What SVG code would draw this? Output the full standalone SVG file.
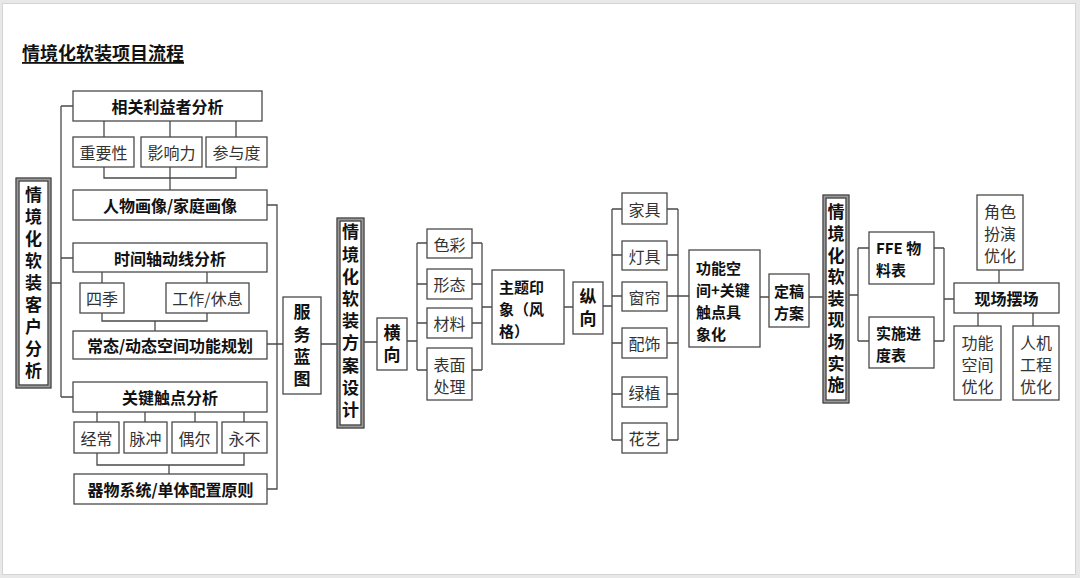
<svg xmlns="http://www.w3.org/2000/svg" width="1080" height="578" viewBox="0 0 1080 578">
<defs>
<style>
.bx{fill:#fff;stroke:#4a4a4a;stroke-width:1.3}
.dbo{fill:#fff;stroke:#999;stroke-width:4}
.dbl{fill:none;stroke:#333;stroke-width:1}
.ln{fill:none;stroke:#4a4a4a;stroke-width:1.3}
text{font-family:"Noto Sans CJK SC","Liberation Sans",sans-serif;font-size:16px;dominant-baseline:central}
.b{font-weight:bold;fill:#111}
.n{fill:#333}
.c{text-anchor:middle}
.m{font-size:15px}
.vt{font-size:17px;writing-mode:vertical-rl;text-anchor:start}
</style>
</defs>
<rect x="0" y="0" width="1080" height="578" fill="#e8e8e8"/>
<rect x="2.5" y="3.5" width="1073" height="571" fill="#fff" stroke="#d4d4d4" stroke-width="1"/>
<text x="22" y="52" class="b" style="font-size:18px;text-decoration:underline">情境化软装项目流程</text>

<g id="connectors">
<path class="ln" d="M51,283H61M61,106V397M61,106H73M61,258H73M61,397H73"/>
<path class="ln" d="M104,121V137M170,121V137M236,121V137M104,167V178H236V167M170,167V190"/>
<path class="ln" d="M102,272V283M207,272V283M102,313V321H207V313M155,321V331"/>
<path class="ln" d="M97,412V422M145,412V422M195,412V422M244,412V422M97,453V465H244V453M169,465V474"/>
<path class="ln" d="M267,205H277V489H267M267,344H283M321,344H337M364,342H377"/>
<path class="ln" d="M407,341H417M417,243V370M417,243H427M417,284H427M417,323H427M417,370H427"/>
<path class="ln" d="M472,243H482M472,284H482M472,323H482M472,370H482M482,243V370M482,307H492M564,307H573"/>
<path class="ln" d="M603,306H612M612,209V440M612,209H622M612,255H622M612,296H622M612,343H622M612,394H622M612,440H622"/>
<path class="ln" d="M667,209H678M667,255H678M667,296H678M667,343H678M667,394H678M667,440H678M678,209V440M678,296H689"/>
<path class="ln" d="M760,297H769M809,297H823M849,295H858M858,248V341M858,248H869M858,341H869"/>
<path class="ln" d="M934,248H944M934,341H944M944,248V341M944,299H954M999,270V283M978,313V326M1033,313V326"/>
</g>

<g id="n-client">
<rect class="dbo" x="17.5" y="179.5" width="32" height="207"/>
<rect class="dbl" x="16" y="178" width="35" height="210"/>
<rect class="dbl" x="19" y="181" width="29" height="204"/>
<text class="b vt" x="33.5" y="186.5" letter-spacing="5">情境化软装客户分析</text>
</g>

<g id="n-stake"><rect class="bx" x="73" y="91" width="189" height="30"/><text class="b c" x="167.5" y="106">相关利益者分析</text></g>
<g id="n-imp"><rect class="bx" x="73" y="137" width="61" height="30"/><text class="n c" x="103.5" y="152">重要性</text></g>
<g id="n-inf"><rect class="bx" x="141" y="137" width="61" height="30"/><text class="n c" x="171.5" y="152">影响力</text></g>
<g id="n-par"><rect class="bx" x="206" y="137" width="61" height="30"/><text class="n c" x="236.5" y="152">参与度</text></g>
<g id="n-persona"><rect class="bx" x="73" y="190" width="194" height="30"/><text class="b c" x="170" y="205">人物画像/家庭画像</text></g>
<g id="n-time"><rect class="bx" x="73" y="243" width="194" height="29"/><text class="b c" x="170" y="257.5">时间轴动线分析</text></g>
<g id="n-season"><rect class="bx" x="80" y="283" width="44" height="30"/><text class="n c" x="102" y="298">四季</text></g>
<g id="n-work"><rect class="bx" x="166" y="283" width="83" height="30"/><text class="n c" x="207.5" y="298">工作/休息</text></g>
<g id="n-space"><rect class="bx" x="73" y="331" width="194" height="28"/><text class="b c" x="170" y="345">常态/动态空间功能规划</text></g>
<g id="n-touch"><rect class="bx" x="73" y="382" width="194" height="30"/><text class="b c" x="170" y="397">关键触点分析</text></g>
<g id="n-often"><rect class="bx" x="74" y="422" width="45" height="31"/><text class="n c" x="96.5" y="437.5">经常</text></g>
<g id="n-pulse"><rect class="bx" x="124" y="422" width="43" height="31"/><text class="n c" x="145.5" y="437.5">脉冲</text></g>
<g id="n-occ"><rect class="bx" x="172" y="422" width="45" height="31"/><text class="n c" x="194.5" y="437.5">偶尔</text></g>
<g id="n-never"><rect class="bx" x="222" y="422" width="45" height="31"/><text class="n c" x="244.5" y="437.5">永不</text></g>
<g id="n-system"><rect class="bx" x="74" y="474" width="193" height="30"/><text class="b c" x="170.5" y="489">器物系统/单体配置原则</text></g>

<g id="n-blueprint"><rect class="bx" x="283" y="297" width="38" height="97"/>
<text class="b vt" x="302" y="303.5" letter-spacing="5.3">服务蓝图</text></g>

<g id="n-design">
<rect class="dbo" x="338.5" y="219.5" width="24" height="207"/>
<rect class="dbl" x="337" y="218" width="27" height="210"/>
<rect class="dbl" x="340" y="221" width="21" height="204"/>
<text class="b vt" x="350.5" y="223.5" letter-spacing="5.2">情境化软装方案设计</text>
</g>

<g id="n-horiz"><rect class="bx" x="377" y="318" width="30" height="52"/><text class="b vt" x="392" y="324.5" letter-spacing="5">横向</text></g>
<g id="n-color"><rect class="bx" x="427" y="229" width="45" height="29"/><text class="n c" x="449.5" y="243.5">色彩</text></g>
<g id="n-form"><rect class="bx" x="427" y="269" width="45" height="30"/><text class="n c" x="449.5" y="284">形态</text></g>
<g id="n-mat"><rect class="bx" x="427" y="308" width="45" height="30"/><text class="n c" x="449.5" y="323">材料</text></g>
<g id="n-surf"><rect class="bx" x="427" y="348" width="45" height="52"/><text class="n c"><tspan x="449.5" y="364">表面</tspan><tspan x="449.5" y="386">处理</tspan></text></g>
<g id="n-theme"><rect class="bx" x="492" y="270" width="72" height="74"/><text class="b m"><tspan x="499" y="286">主题印</tspan><tspan x="499" y="308">象（风</tspan><tspan x="499" y="330">格）</tspan></text></g>

<g id="n-vert"><rect class="bx" x="573" y="282" width="30" height="52"/><text class="b vt" x="588" y="288.5" letter-spacing="5">纵向</text></g>
<g id="n-furn"><rect class="bx" x="622" y="193" width="45" height="31"/><text class="n c" x="644.5" y="208.5">家具</text></g>
<g id="n-lamp"><rect class="bx" x="622" y="241" width="45" height="29"/><text class="n c" x="644.5" y="255.5">灯具</text></g>
<g id="n-curt"><rect class="bx" x="622" y="282" width="45" height="29"/><text class="n c" x="644.5" y="296.5">窗帘</text></g>
<g id="n-acc"><rect class="bx" x="622" y="328" width="45" height="30"/><text class="n c" x="644.5" y="343">配饰</text></g>
<g id="n-plant"><rect class="bx" x="622" y="377" width="45" height="30"/><text class="n c" x="644.5" y="392">绿植</text></g>
<g id="n-flower"><rect class="bx" x="622" y="423" width="45" height="30"/><text class="n c" x="644.5" y="438">花艺</text></g>
<g id="n-concrete"><rect class="bx" x="689" y="250" width="71" height="97"/><text class="b m"><tspan x="696" y="267">功能空</tspan><tspan x="696" y="289">间+关键</tspan><tspan x="696" y="311">触点具</tspan><tspan x="696" y="333">象化</tspan></text></g>
<g id="n-final"><rect class="bx" x="769" y="274" width="40" height="53"/><text class="b c" style="font-size:15px"><tspan x="789" y="289.5">定稿</tspan><tspan x="789" y="311.5">方案</tspan></text></g>

<g id="n-impl">
<rect class="dbo" x="824.5" y="196.5" width="23" height="205"/>
<rect class="dbl" x="823" y="195" width="26" height="208"/>
<rect class="dbl" x="826" y="198" width="20" height="202"/>
<text class="b vt" x="836" y="203.5" letter-spacing="4.6">情境化软装现场实施</text>
</g>
<g id="n-ffe"><rect class="bx" x="869" y="232" width="65" height="52"/><text class="b m"><tspan x="876" y="247">FFE 物</tspan><tspan x="876" y="269">料表</tspan></text></g>
<g id="n-sched"><rect class="bx" x="869" y="317" width="65" height="51"/><text class="b m"><tspan x="876" y="332">实施进</tspan><tspan x="876" y="354">度表</tspan></text></g>
<g id="n-onsite"><rect class="bx" x="954" y="283" width="105" height="30"/><text class="b c" x="1006.5" y="298">现场摆场</text></g>
<g id="n-role"><rect class="bx" x="977" y="195" width="46" height="75"/><text class="n c"><tspan x="1000" y="211">角色</tspan><tspan x="1000" y="233">扮演</tspan><tspan x="1000" y="255">优化</tspan></text></g>
<g id="n-func"><rect class="bx" x="954" y="326" width="47" height="74"/><text class="n c"><tspan x="977.5" y="342">功能</tspan><tspan x="977.5" y="364">空间</tspan><tspan x="977.5" y="386">优化</tspan></text></g>
<g id="n-ergo"><rect class="bx" x="1013" y="326" width="46" height="74"/><text class="n c"><tspan x="1036" y="342">人机</tspan><tspan x="1036" y="364">工程</tspan><tspan x="1036" y="386">优化</tspan></text></g>
</svg>
